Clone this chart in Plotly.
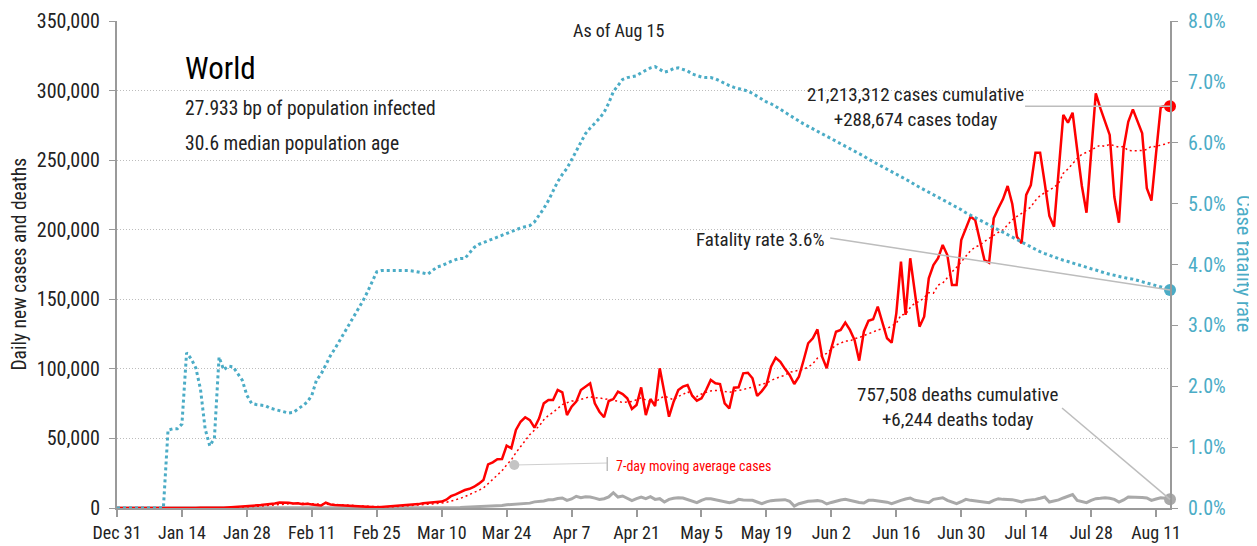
import pandas as pd
import plotly.graph_objects as go

FONT = "Roboto Condensed, Liberation Sans Narrow, DejaVu Sans Condensed, Arial Narrow, sans-serif"
RED = "#ff0000"
TEAL = "#4bacc6"
GRAY = "#a9a9a9"

start_date = "2019-12-31"
end_date = "2020-08-14"

# daily new cases, Dec 31 .. Aug 14
cases = [
    27, 0, 0, 0, 0, 15, 0, 0, 0, 0, 0, 0, 0, 1, 1, 0, 4, 17, 136, 19,
    151, 140, 97, 266, 453, 673, 797, 1100, 1600, 1700, 2000, 2100, 2600, 2800, 3200, 3900, 4000, 3700, 3200, 3400,
    2700, 3000, 2500, 2000, 1800, 3800, 2500, 2100, 1900, 1800, 1700, 1000, 900, 1000, 700, 600, 500, 800, 1000, 1200,
    1800, 2000, 1800, 2200, 2400, 2800, 3500, 3800, 3900, 4200, 4600, 6000, 8500, 9800, 11300, 12900, 13800, 15300, 17500, 20100,
    31400, 32800, 35000, 35200, 44800, 42900, 56100, 62000, 65200, 63200, 57700, 64500, 75200, 77600, 77600, 84800, 83100, 66800, 72800, 76400,
    84800, 87000, 89600, 75200, 69200, 65200, 76900, 78300, 83600, 81900, 78800, 71200, 74000, 86700, 66800, 78300, 73300, 100400, 83000, 65600,
    76400, 84800, 87200, 88400, 80700, 77100, 78800, 84800, 92000, 89600, 89100, 75200, 71600, 86500, 86700, 96800, 97200, 93200, 80500, 84000,
    88400, 101600, 108000, 105100, 100000, 95600, 89100, 94400, 106000, 118400, 122000, 128400, 108700, 100400, 115000, 126700, 127900, 133200, 128000, 120700,
    105900, 126700, 134600, 135600, 144700, 133000, 122000, 118800, 139900, 177000, 138700, 179500, 155000, 130300, 137500, 165100, 174600, 179500, 189000, 181800,
    160300, 160300, 192600, 201000, 209400, 207000, 192000, 178200, 176300, 208200, 215400, 222000, 231400, 218500, 195000, 190200, 225000, 232100, 255400, 255400,
    233400, 209900, 202200, 245000, 282500, 276900, 284100, 257300, 231400, 212200, 255000, 298000, 287200, 278000, 268100, 223700, 205000, 258500, 277600, 286500,
    277600, 269300, 229800, 220900, 255000, 288000, 289000, 288674,
]

# daily new deaths
deaths = [
    0, 0, 0, 0, 0, 0, 0, 0, 0, 0, 0, 0, 0, 0, 0, 0, 0, 0, 0, 0,
    0, 3, 8, 16, 14, 26, 49, 24, 26, 38, 43, 46, 45, 57, 64, 66, 73, 73, 86, 89,
    97, 108, 97, 254, 13, 143, 142, 106, 98, 139, 115, 118, 109, 97, 150, 71, 52, 29, 44, 47,
    60, 55, 70, 80, 90, 100, 100, 120, 110, 230, 200, 330, 350, 450, 400, 600, 700, 800, 1000, 1200,
    1400, 1650, 1700, 1800, 2300, 2500, 2800, 3200, 3400, 3500, 4400, 4600, 5100, 5900, 6000, 6800, 7200, 5500, 6500, 8400,
    7400, 8100, 7900, 7100, 6200, 6700, 8000, 11000, 7900, 8600, 7200, 5300, 6700, 7900, 6700, 8100, 6200, 6700, 4300, 6200,
    7000, 7400, 7200, 6200, 5300, 3800, 5500, 6700, 6700, 6000, 5500, 4300, 3800, 4500, 6200, 5800, 5500, 5500, 4300, 3100,
    4400, 5300, 5500, 5800, 6000, 4800, 1400, 3100, 4200, 4800, 5100, 5300, 4800, 2900, 4000, 5000, 5800, 6200, 5300, 4300,
    3900, 3600, 5500, 5500, 5200, 5000, 4200, 3100, 4500, 5500, 6500, 7200, 5500, 5000, 4000, 3800, 6200, 6800, 7400, 5500,
    4500, 3100, 4500, 6200, 5500, 5200, 4800, 4200, 3800, 5500, 6700, 6200, 6100, 6000, 5200, 4300, 5500, 5800, 6200, 7000,
    7900, 4300, 4800, 5800, 7200, 8500, 9600, 5500, 4600, 3800, 5500, 6700, 7000, 7400, 7000, 6200, 4300, 5800, 7900, 7900,
    7900, 7500, 7200, 5500, 6500, 7400, 7000, 6244,
]

# case fatality rate, percent
cfr = [
    0, 0, 0, 0, 0, 0, 0, 0, 0, 0, 0, 1.28, 1.30, 1.30, 1.38, 2.55, 2.45, 2.30, 1.95, 1.30,
    1.02, 1.15, 2.48, 2.27, 2.33, 2.32, 2.22, 2.10, 1.85, 1.72, 1.70, 1.69, 1.68, 1.64, 1.62, 1.60, 1.58, 1.56, 1.57, 1.62,
    1.68, 1.74, 1.85, 2.10, 2.20, 2.35, 2.50, 2.62, 2.75, 2.88, 3.00, 3.12, 3.25, 3.40, 3.55, 3.72, 3.88, 3.90, 3.90, 3.91,
    3.91, 3.91, 3.90, 3.90, 3.89, 3.88, 3.86, 3.84, 3.90, 3.96, 3.98, 4.02, 4.05, 4.08, 4.10, 4.10, 4.20, 4.28, 4.33, 4.36,
    4.40, 4.42, 4.45, 4.48, 4.52, 4.55, 4.57, 4.60, 4.62, 4.64, 4.70, 4.80, 4.92, 5.05, 5.20, 5.36, 5.48, 5.58, 5.72, 5.86,
    6.00, 6.15, 6.24, 6.32, 6.40, 6.50, 6.65, 6.84, 6.95, 7.04, 7.07, 7.08, 7.10, 7.15, 7.19, 7.23, 7.25, 7.21, 7.16, 7.18,
    7.22, 7.23, 7.21, 7.18, 7.13, 7.10, 7.08, 7.07, 7.07, 7.05, 7.01, 6.97, 6.94, 6.91, 6.89, 6.87, 6.85, 6.81, 6.76, 6.71,
    6.67, 6.64, 6.60, 6.55, 6.50, 6.45, 6.40, 6.35, 6.31, 6.27, 6.23, 6.19, 6.15, 6.11, 6.07, 6.03, 5.99, 5.94, 5.90, 5.86,
    5.82, 5.78, 5.73, 5.69, 5.65, 5.61, 5.57, 5.52, 5.48, 5.44, 5.40, 5.36, 5.31, 5.27, 5.23, 5.19, 5.15, 5.11, 5.06, 5.02,
    4.98, 4.94, 4.90, 4.85, 4.81, 4.77, 4.73, 4.69, 4.64, 4.60, 4.56, 4.52, 4.48, 4.44, 4.40, 4.36, 4.33, 4.29, 4.25, 4.21,
    4.18, 4.15, 4.12, 4.10, 4.07, 4.05, 4.02, 4.00, 3.98, 3.95, 3.93, 3.91, 3.88, 3.86, 3.84, 3.82, 3.80, 3.79, 3.77, 3.76,
    3.74, 3.72, 3.70, 3.68, 3.66, 3.64, 3.61, 3.58,
]

cases_total = "21,213,312"
deaths_total = "757,508"
y_max = 350000
cfr_max = 8

dates = pd.date_range(start_date, end_date, freq="D")
df = pd.DataFrame({"date": dates, "cases": cases, "deaths": deaths, "cfr": cfr})
df["ma7"] = df["cases"].rolling(7, min_periods=1).mean()
last = df.iloc[-1]

fig = go.Figure()
fig.add_scatter(x=df["date"], y=df["cfr"], yaxis="y2", mode="lines",
                line=dict(color=TEAL, width=3, dash="dot"))
fig.add_scatter(x=df["date"], y=df["deaths"], mode="lines",
                line=dict(color=GRAY, width=3))
fig.add_scatter(x=df["date"], y=df["ma7"], mode="lines",
                line=dict(color=RED, width=1.5, dash="2px,3px"))
fig.add_scatter(x=df["date"], y=df["cases"], mode="lines",
                line=dict(color=RED, width=2.5))
# end dots
fig.add_scatter(x=[last["date"]], y=[last["cases"]], mode="markers",
                marker=dict(color=RED, size=12), cliponaxis=False)
fig.add_scatter(x=[last["date"]], y=[last["deaths"]], mode="markers",
                marker=dict(color=GRAY, size=12), cliponaxis=False)
fig.add_scatter(x=[last["date"]], y=[last["cfr"]], yaxis="y2", mode="markers",
                marker=dict(color=TEAL, size=12), cliponaxis=False)

tick_dates = pd.date_range(start_date, end_date, freq="14D")


# page pixel -> paper coords (plot area spans x 116.5..1170, y 21..508 on the page)
def px(x):
    return (x - 116.5) / 1053.5


def py(y):
    return (508 - y) / 487


line_style = dict(color="#bdbdbd", width=1.5)
shapes = [
    dict(type="line", xref="paper", yref="paper", x0=px(1025), x1=1,
         y0=last["cases"] / y_max, y1=last["cases"] / y_max, line=line_style),
    dict(type="line", xref="paper", yref="paper", x0=px(830), y0=py(238), x1=1,
         y1=last["cfr"] / cfr_max, line=line_style),
    dict(type="line", xref="paper", yref="paper", x0=px(1062), y0=py(408), x1=1,
         y1=last["deaths"] / y_max, line=line_style),
    dict(type="line", xref="paper", yref="paper", x0=px(514), y0=py(465), x1=px(607),
         y1=py(463), line=dict(color="#cfcfcf", width=1)),
    dict(type="line", xref="paper", yref="paper", x0=px(607), y0=py(457), x1=px(607),
         y1=py(471), line=dict(color="#bdbdbd", width=1.5)),
    dict(type="circle", xref="paper", yref="paper", x0=px(509), x1=px(519),
         y0=py(470), y1=py(460), fillcolor="#c4c4c4", line=dict(width=0)),
]


def note(x, y, text, size=19, color="#222", xanchor="left", align="left", angle=0):
    return dict(xref="paper", yref="paper", x=px(x), y=py(y), text=text, showarrow=False,
                xanchor=xanchor, yanchor="middle", align=align, textangle=angle,
                font=dict(family=FONT, size=size, color=color))


annotations = [
    note(618, 30, "As of Aug 15", size=18, xanchor="center"),
    note(183, 68, "World", size=31, color="#000"),
    note(183, 108, "27.933 bp of population infected", size=19.5),
    note(183, 143, "30.6 median population age", size=19.5),
    note(915, 107, f"{cases_total} cases cumulative<br>+{last['cases']:,.0f} cases today",
         xanchor="center", align="center"),
    note(826, 240, f"Fatality rate {last['cfr']:.1f}%", xanchor="right"),
    note(958, 407, f"{deaths_total} deaths cumulative<br>+{last['deaths']:,.0f} deaths today",
         xanchor="center", align="center"),
    note(614, 466, "7-day moving average cases", size=14, color=RED),
    note(18, 264, "Daily new cases and deaths", size=19.5, xanchor="center", angle=-90),
    note(1244, 264, "Case fatality rate", size=20.5, color=TEAL, xanchor="center", angle=90),
]

axis_common = dict(
    automargin=False,
    showline=True,
    linecolor="#9a9a9a",
    linewidth=2,
    ticks="outside",
    tickcolor="#9a9a9a",
    zeroline=False,
)

# the page body adds 8px, so the figure is 8px smaller than the window
fig.update_layout(
    template="none",
    width=1249,
    height=538,
    margin=dict(l=108.5, r=87, t=13, b=38),
    paper_bgcolor="white",
    plot_bgcolor="white",
    showlegend=False,
    hovermode=False,
    font=dict(family=FONT, size=17, color="#222"),
    xaxis=dict(
        axis_common,
        type="date",
        range=[start_date, end_date],
        tickvals=tick_dates,
        tickformat="%b %-d",
        showgrid=False,
        ticklen=7,
        tickwidth=1.5,
        tickfont=dict(size=18),
    ),
    yaxis=dict(
        axis_common,
        range=[0, y_max],
        dtick=50000,
        tickformat=",",
        showgrid=True,
        gridcolor="#bdbdbd",
        griddash="1px,2px",
        gridwidth=1,
        ticklen=6,
        ticklabelstandoff=5,
        tickfont=dict(size=20),
    ),
    yaxis2=dict(
        axis_common,
        overlaying="y",
        side="right",
        range=[0, cfr_max],
        dtick=1,
        tickformat=".1f",
        ticksuffix="%",
        showgrid=False,
        ticklen=6,
        ticklabelstandoff=6,
        tickfont=dict(size=20, color=TEAL),
    ),
    shapes=shapes,
    annotations=annotations,
)

fig.write_html("out.html")
